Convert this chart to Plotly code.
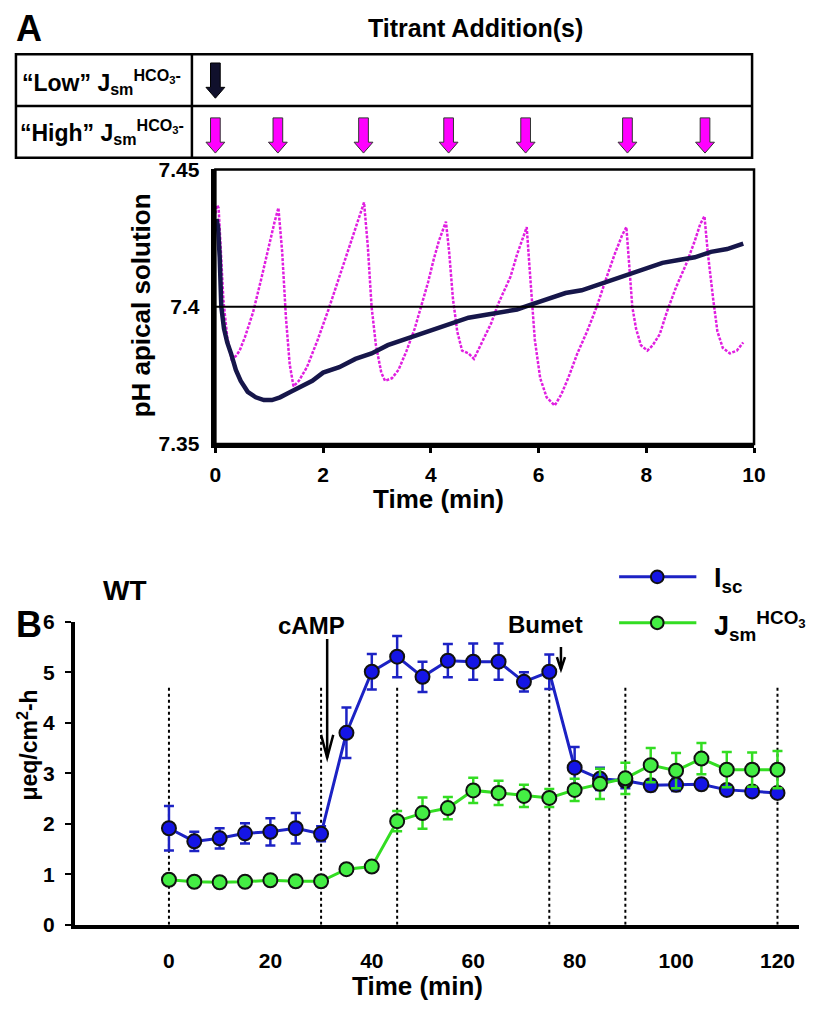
import plotly.graph_objects as go

# The page body keeps its default 8px margin, so the figure is sized to fit inside
# the 819x1014 window and all layout positions are given in window pixels.
VW, VH = 819, 1014
OFF = 8
W, H = VW - 2 * OFF, VH - 2 * OFF
FONT = "Liberation Sans"


def px(x):
    return min(1.0, max(0.0, (x - OFF) / W))


def py(y):
    return min(1.0, max(0.0, 1 - (y - OFF) / H))


# ---------------- Panel A data ----------------
low_t = [0.02, 0.05, 0.08, 0.11, 0.16, 0.22, 0.29, 0.38, 0.47, 0.6,
         0.75, 0.9, 1.05, 1.2, 1.4, 1.6, 1.8, 2.0, 2.3, 2.6,
         2.9, 3.2, 3.5, 3.8, 4.1, 4.4, 4.7, 5.0, 5.3, 5.6,
         5.9, 6.2, 6.5, 6.8, 7.1, 7.4, 7.7, 8.0, 8.3, 8.6,
         8.9, 9.2, 9.5, 9.8]
low_ph = [7.432, 7.429, 7.418, 7.400, 7.392, 7.387, 7.383, 7.377, 7.373, 7.369,
          7.367, 7.366, 7.366, 7.367, 7.369, 7.371, 7.373, 7.376, 7.378, 7.381,
          7.383, 7.386, 7.388, 7.390, 7.392, 7.394, 7.396, 7.397, 7.398, 7.399,
          7.401, 7.403, 7.405, 7.406, 7.408, 7.410, 7.412, 7.414, 7.416, 7.417,
          7.418, 7.420, 7.421, 7.423]

high_t = [0.0, 0.03, 0.06, 0.1, 0.15, 0.22, 0.3, 0.38, 0.45, 0.55,
          0.7, 0.85, 1.0, 1.1, 1.17, 1.24, 1.31, 1.38, 1.45, 1.55,
          1.7, 1.9, 2.1, 2.3, 2.5, 2.68, 2.76, 2.83, 2.9, 2.98,
          3.08, 3.15, 3.28, 3.4, 3.55, 3.7, 3.82, 3.95, 4.05, 4.15,
          4.28, 4.34, 4.41, 4.49, 4.58, 4.7, 4.8, 4.9, 5.0, 5.12,
          5.25, 5.38, 5.48, 5.6, 5.7, 5.78, 5.83, 5.88, 5.93, 6.03,
          6.15, 6.3, 6.42, 6.55, 6.72, 6.9, 7.08, 7.25, 7.41, 7.55,
          7.63, 7.68, 7.74, 7.81, 7.9, 8.02, 8.12, 8.25, 8.38, 8.55,
          8.75, 8.9, 9.0, 9.08, 9.14, 9.24, 9.32, 9.42, 9.55, 9.68,
          9.8]
high_ph = [7.434, 7.437, 7.436, 7.420, 7.402, 7.389, 7.381, 7.382, 7.384, 7.389,
           7.398, 7.410, 7.423, 7.431, 7.436, 7.420, 7.396, 7.379, 7.371, 7.373,
           7.378, 7.388, 7.399, 7.411, 7.423, 7.433, 7.438, 7.422, 7.400, 7.386,
           7.376, 7.373, 7.374, 7.377, 7.384, 7.392, 7.400, 7.409, 7.417, 7.424,
           7.431, 7.420, 7.403, 7.391, 7.384, 7.383, 7.381, 7.385, 7.389, 7.394,
           7.401, 7.407, 7.411, 7.419, 7.425, 7.429, 7.415, 7.400, 7.388, 7.374,
           7.367, 7.364, 7.368, 7.374, 7.383, 7.391, 7.400, 7.410, 7.419, 7.426,
           7.429, 7.416, 7.400, 7.392, 7.386, 7.384, 7.386, 7.390, 7.398, 7.407,
           7.416, 7.424, 7.430, 7.433, 7.420, 7.403, 7.391, 7.385, 7.383, 7.384,
           7.387]

low_additions = [0.0]
high_additions = [0.0, 1.16, 2.75, 4.33, 5.76, 7.65, 9.09]
ph_reference = 7.4
ph_ticks = [7.35, 7.4, 7.45]
ph_ticktext = ["7.35", "7.4", "7.45"]
time_a_ticks = [0, 2, 4, 6, 8, 10]

# ---------------- Panel B data ----------------
time_b = [0, 5, 10, 15, 20, 25, 30, 35, 40, 45, 50, 55, 60,
          65, 70, 75, 80, 85, 90, 95, 100, 105, 110, 115, 120]
isc = [1.91, 1.65, 1.71, 1.81, 1.84, 1.91, 1.80, 3.80, 5.01, 5.31, 4.91, 5.23, 5.21,
       5.21, 4.81, 5.01, 3.11, 2.89, 2.85, 2.76, 2.77, 2.78, 2.67, 2.64, 2.61]
isc_err = [0.44, 0.19, 0.20, 0.20, 0.27, 0.30, 0.15, 0.50, 0.35, 0.41, 0.30, 0.33, 0.36,
           0.36, 0.19, 0.34, 0.41, 0.22, 0.15, 0.11, 0.12, 0.09, 0.08, 0.08, 0.08]
jsm = [0.89, 0.85, 0.84, 0.85, 0.88, 0.86, 0.86, 1.10, 1.15, 2.05, 2.21, 2.31, 2.66,
       2.61, 2.55, 2.51, 2.67, 2.79, 2.90, 3.16, 3.05, 3.29, 3.07, 3.07, 3.07]
jsm_err = [0.06, 0.05, 0.05, 0.05, 0.05, 0.05, 0.06, 0.08, 0.10, 0.20, 0.31, 0.22, 0.25,
           0.24, 0.22, 0.18, 0.22, 0.30, 0.31, 0.34, 0.35, 0.31, 0.35, 0.34, 0.37]
period_marks = [0, 30, 45, 75, 90, 120]
period_top = 4.75
event_names = ["cAMP", "Bumet"]
event_time = [31.2, 77.3]
event_from = [5.66, 5.50]
event_to = [3.31, 5.06]
event_label_x = [28.1, 74.3]
event_label_y = [5.92, 5.95]
time_b_ticks = [0, 20, 40, 60, 80, 100, 120]
flux_ticks = [0, 1, 2, 3, 4, 5, 6]

NAVY = "#16164a"
MAGENTA = "#e01ee0"
BLUE = "#1c22c4"
BLUE_FILL = "#1515e6"
GREEN = "#33dd22"
GREEN_FILL = "#44ee44"

fig = go.Figure()

# Panel A traces
fig.add_trace(go.Scatter(x=high_t, y=high_ph, mode="lines",
                         line=dict(color=MAGENTA, width=2.5, dash="3px,1.5px"),
                         xaxis="x", yaxis="y", showlegend=False))
fig.add_trace(go.Scatter(x=low_t, y=low_ph, mode="lines",
                         line=dict(color=NAVY, width=4.5),
                         xaxis="x", yaxis="y", showlegend=False))

# Panel B traces
fig.add_trace(go.Scatter(x=time_b, y=isc, mode="lines+markers",
                         line=dict(color=BLUE, width=3),
                         marker=dict(size=14, color=BLUE_FILL, line=dict(color="#111111", width=2)),
                         error_y=dict(type="data", array=isc_err, color=BLUE, thickness=2.5, width=5),
                         xaxis="x2", yaxis="y2", showlegend=False))
fig.add_trace(go.Scatter(x=time_b, y=jsm, mode="lines+markers",
                         line=dict(color=GREEN, width=3),
                         marker=dict(size=14, color=GREEN_FILL, line=dict(color="#111111", width=2)),
                         error_y=dict(type="data", array=jsm_err, color=GREEN, thickness=2.5, width=5),
                         xaxis="x2", yaxis="y2", showlegend=False))

shapes = []
annotations = []

# pH reference line and plot frame
shapes.append(dict(type="line", xref="x domain", yref="y", x0=0, x1=1, y0=ph_reference, y1=ph_reference,
                   line=dict(color="black", width=1.8)))
shapes.append(dict(type="rect", xref="x domain", yref="y domain", x0=0, x1=1, y0=0, y1=1,
                   line=dict(color="black", width=2.5)))

# Table
TL, TR, TT, TM, TB, TS = 10, 763, 43, 96, 149, 190
shapes.append(dict(type="rect", xref="paper", yref="paper", x0=px(TL), x1=px(TR), y0=py(TB), y1=py(TT),
                   line=dict(color="black", width=2.5)))
shapes.append(dict(type="line", xref="paper", yref="paper", x0=px(TL), x1=px(TR), y0=py(TM), y1=py(TM),
                   line=dict(color="black", width=2.5)))
shapes.append(dict(type="line", xref="paper", yref="paper", x0=px(TS), x1=px(TS), y0=py(TB), y1=py(TT),
                   line=dict(color="black", width=2.5)))


def arrow_path(t, y_top, y_head, y_tip, sw=0.09, hw=0.175):
    return (f"M {t - sw},{y_top} L {t + sw},{y_top} L {t + sw},{y_head} L {t + hw},{y_head} "
            f"L {t},{y_tip} L {t - hw},{y_head} L {t - sw},{y_head} Z")


for t in low_additions:
    shapes.append(dict(type="path", xref="x3", yref="y3", path=arrow_path(t, 0.17, 0.64, 0.85),
                       fillcolor="#10102c", line=dict(color="#000000", width=1)))
for t in high_additions:
    shapes.append(dict(type="path", xref="x3", yref="y3", path=arrow_path(t, 1.23, 1.70, 1.91),
                       fillcolor="#ff00ff", line=dict(color="#333333", width=1)))

# Panel B period lines
for t in period_marks:
    shapes.append(dict(type="line", xref="x2", yref="y2", x0=t, x1=t, y0=0, y1=period_top,
                       line=dict(color="black", width=2, dash="dot"), layer="below"))

# Event arrows
head_len = [0.45, 0.24]
head_w = [1.2, 0.8]
for name, t, y0, y1, lx, ly, hl, hw in zip(event_names, event_time, event_from, event_to,
                                           event_label_x, event_label_y, head_len, head_w):
    shapes.append(dict(type="line", xref="x2", yref="y2", x0=t, x1=t, y0=y0, y1=y1,
                       line=dict(color="black", width=2.5)))
    shapes.append(dict(type="path", xref="x2", yref="y2",
                       path=f"M {t - hw},{y1 + hl} L {t},{y1} L {t + hw},{y1 + hl}",
                       line=dict(color="black", width=2.5)))
    annotations.append(dict(text=name, x=lx, y=ly, xref="x2", yref="y2", showarrow=False,
                            font=dict(family=FONT, size=24, color="black", weight="bold")))

# Manual legend
legend_items = [("I<sub>sc</sub>", BLUE, BLUE_FILL, 578),
                ("J<sub>sm</sub><sup>HCO<sub>3</sub></sup>", GREEN, GREEN_FILL, 625)]
for label_text, lc, fc, yy in legend_items:
    shapes.append(dict(type="line", xref="paper", yref="paper", x0=px(627), x1=px(706), y0=py(yy), y1=py(yy),
                       line=dict(color=lc, width=3)))
    shapes.append(dict(type="circle", xref="paper", yref="paper", x0=px(659.5), x1=px(672.5),
                       y0=py(yy + 6.5), y1=py(yy - 6.5), fillcolor=fc, line=dict(color="#111111", width=2)))
    annotations.append(dict(text=label_text, x=px(722), y=py(yy + 3), xref="paper", yref="paper",
                            xanchor="left", yanchor="middle", showarrow=False,
                            font=dict(family=FONT, size=27, color="black", weight="bold")))


def label(text, x, y, size, angle=0, anchor="center"):
    annotations.append(dict(text=text, x=px(x), y=py(y), xref="paper", yref="paper", showarrow=False,
                            xanchor=anchor, yanchor="middle", textangle=angle,
                            font=dict(family=FONT, size=size, color="black", weight="bold")))


label("A", 8, 17, 36, anchor="left")
label("Titrant Addition(s)", 480, 16, 25)
label("\u201cLow\u201d J<sub>sm</sub><sup>HCO<sub>3</sub>-</sup>", 98, 71, 23)
label("\u201cHigh\u201d J<sub>sm</sub><sup>HCO<sub>3</sub>-</sup>", 98, 123, 23)
label("pH apical solution", 138, 300, 26, angle=-90)
label("Time (min)", 442, 498, 26)
label("B", 8, 627, 36, anchor="left")
label("WT", 122, 592, 28)
label("\u03bceq/cm<sup>2</sup>-h", 22, 750, 23, angle=-90)
label("Time (min)", 421, 997, 26)

tickfont = dict(family=FONT, size=21, color="black", weight="bold")

# Panel B x scale: 0 min at 166.5 px, 120 min at 789 px in the window
B_LEFT, B_RIGHT = 70, 811
B_ZERO, B_K = 166.5, (789 - 166.5) / 120

fig.update_layout(
    width=W, height=H, autosize=False,
    margin=dict(l=0, r=0, t=0, b=0),
    paper_bgcolor="white", plot_bgcolor="white",
    showlegend=False,
    shapes=shapes, annotations=annotations,
    xaxis=dict(domain=[px(214), px(765)], range=[0, 10], anchor="y",
               tickvals=time_a_ticks, ticks="outside", ticklen=5, tickwidth=3, tickcolor="black",
               showline=True, linewidth=3.5, linecolor="black", showgrid=False, zeroline=False,
               tickfont=tickfont, ticklabelstandoff=4),
    yaxis=dict(domain=[py(442), py(161)], range=[7.35, 7.45], anchor="x",
               tickvals=ph_ticks, ticktext=ph_ticktext, ticks="",
               showline=True, linewidth=3.5, linecolor="black", showgrid=False, zeroline=False,
               tickfont=tickfont, ticklabelstandoff=8),
    xaxis3=dict(domain=[px(TS), px(765)], range=[-10 * (214 - TS) / (765 - 214), 10], anchor="y3",
                visible=False, fixedrange=True),
    yaxis3=dict(domain=[py(TB), py(TT)], range=[2, 0], anchor="x3", visible=False, fixedrange=True),
    xaxis2=dict(domain=[px(B_LEFT), px(B_RIGHT)],
                range=[(B_LEFT - B_ZERO) / B_K, (B_RIGHT - B_ZERO) / B_K], anchor="y2",
                tickvals=time_b_ticks, ticks="outside", ticklen=14, tickcolor="rgba(0,0,0,0)",
                showline=True, linewidth=3.5, linecolor="black", showgrid=False, zeroline=False,
                tickfont=tickfont),
    yaxis2=dict(domain=[py(934), py(624)], range=[0, 6], anchor="x2",
                tickvals=flux_ticks, ticks="outside", ticklen=6, tickwidth=1.5, tickcolor="black",
                showline=True, linewidth=3.5, linecolor="black", showgrid=False, zeroline=False,
                tickfont=tickfont, ticklabelstandoff=6),
)

fig.write_html("out.html")
